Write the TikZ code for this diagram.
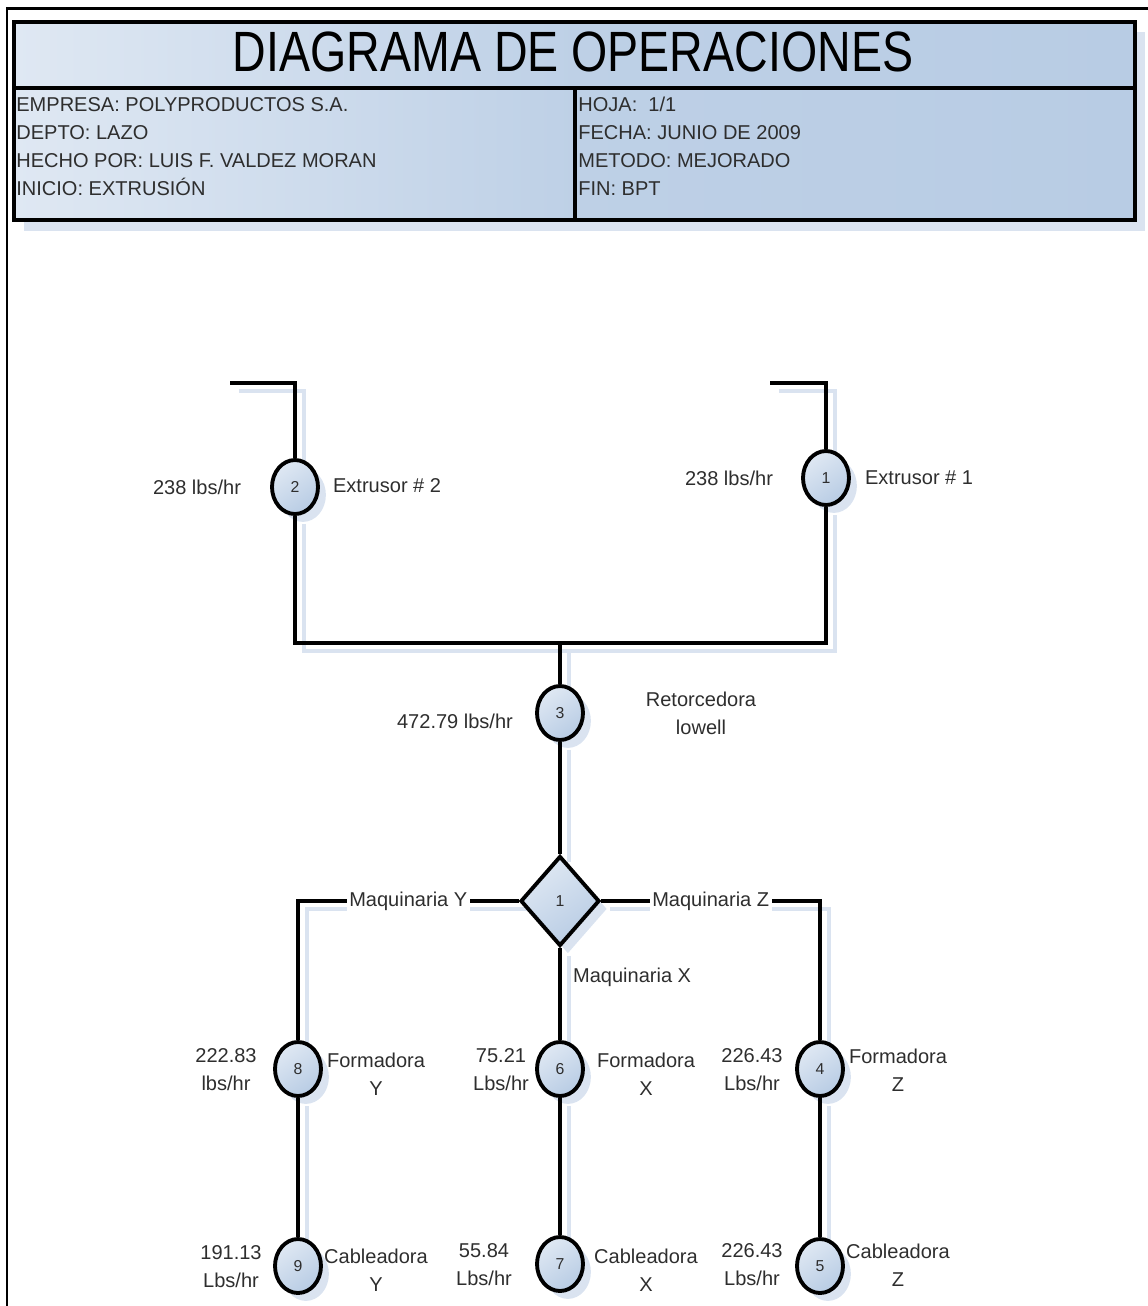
\documentclass[tikz,border=0pt]{standalone}
\usepackage{fontspec}
\setmainfont{Liberation Sans}
\usetikzlibrary{shapes.geometric, shadows, backgrounds}
\definecolor{hdrblue}{HTML}{B8CCE4}
\definecolor{hdrlite}{HTML}{DFE8F3}
\definecolor{shadeblue}{HTML}{DAE3F0}
\definecolor{txtgray}{HTML}{2E2E2E}
\tikzset{
  flow/.style={line width=2pt},
  flowshadow/.style={line width=2pt, draw=shadeblue},
  opcirc/.style={ellipse, draw, line width=2.2pt, minimum width=0.92cm, minimum height=1.08cm,
      inner sep=0pt, top color=hdrlite, bottom color=hdrblue, shading angle=35,
      font=\fontsize{9}{9}\selectfont, text=txtgray,
      drop shadow={shadow xshift=4.5pt, shadow yshift=-4.5pt, fill=shadeblue, opacity=1}},
  decision/.style={diamond, draw, line width=2.2pt, aspect=0.88, minimum width=1.58cm, minimum height=1.8cm,
      inner sep=0pt, top color=hdrlite, bottom color=hdrblue, shading angle=35,
      font=\fontsize{9}{9}\selectfont, text=txtgray,
      drop shadow={shadow xshift=4.5pt, shadow yshift=-4.5pt, fill=shadeblue, opacity=1}},
  rate/.style={font=\fontsize{11.4}{15.9}\selectfont, text=txtgray, align=center, inner sep=1pt},
  branch/.style={rate, fill=white, inner sep=1.5pt},
  hdrtext/.style={font=\fontsize{11.4}{15.9}\selectfont, text=txtgray, align=left, inner sep=0pt, anchor=north west},
}

\begin{document}
\begin{tikzpicture}[x=0.02cm, y=-0.02cm]
  \useasboundingbox (0,0) rectangle (1148,1306);
  % marco de la hoja
  \draw[line width=1.7pt] (1148,8) -- (7,8) -- (7,1306);
  % encabezado
  \fill[shadeblue] (24,32) rectangle (1145,231);
  \shade[left color=hdrlite, right color=hdrblue, middle color=hdrblue!85!hdrlite] (14,22) rectangle (1135,220);
  \draw[line width=2.2pt] (14,22) rectangle (1135,220);
  \draw[line width=2.2pt] (14,88) -- (1135,88);
  \draw[line width=2.2pt] (575,88) -- (575,220);
  \node[font=\fontsize{26.5}{26.5}\selectfont, inner sep=0pt] (title) at (573,52)
    {\scalebox{1}[1.22]{DIAGRAMA DE OPERACIONES}};
  \node[hdrtext] (infoL) at (16,97) {EMPRESA: POLYPRODUCTOS S.A.\\DEPTO: LAZO\\HECHO POR: LUIS F. VALDEZ MORAN\\INICIO: EXTRUSIÓN};
  \node[hdrtext] (infoR) at (578,97) {HOJA:\ \ 1/1\\FECHA: JUNIO DE 2009\\METODO: MEJORADO\\FIN: BPT};

  % operaciones
  \node[opcirc] (c2) at (295,487) {2};
  \node[opcirc] (c1) at (826,478) {1};
  \node[opcirc] (c3) at (560,713) {3};
  \node[decision] (d1) at (560,901) {1};
  \node[opcirc] (c8) at (298,1069) {8};
  \node[opcirc] (c6) at (560,1069) {6};
  \node[opcirc] (c4) at (820,1069) {4};
  \node[opcirc] (c9) at (298,1266) {9};
  \node[opcirc] (c7) at (560,1264) {7};
  \node[opcirc] (c5) at (820,1266) {5};

  \coordinate (s2) at (230,383);
  \coordinate (s1) at (770,383);
  \coordinate (j1) at (826,643);
  \coordinate (jm) at (560,643);
  \coordinate (bY) at (298,901);
  \coordinate (bZ) at (820,901);

  % textos
  \node[rate] (r2) at (197,487) {238 lbs/hr};
  \node[rate, anchor=west] (n2) at (331,486) {Extrusor \# 2};
  \node[rate] (r1) at (729,478) {238 lbs/hr};
  \node[rate, anchor=west] (n1) at (863,478) {Extrusor \# 1};
  \node[rate] (r3) at (455,721) {472.79 lbs/hr};
  \node[rate] (n3) at (701,713) {Retorcedora\\lowell};
  \node[rate, anchor=west] (mX) at (571,977) {Maquinaria X};
  \node[rate] (r8) at (226,1070) {222.83\\lbs/hr};
  \node[rate] (n8) at (376,1074) {Formadora\\Y};
  \node[rate] (r6) at (501,1070) {75.21\\Lbs/hr};
  \node[rate] (n6) at (646,1074) {Formadora\\X};
  \node[rate] (r4) at (752,1070) {226.43\\Lbs/hr};
  \node[rate] (n4) at (898,1070) {Formadora\\Z};
  \node[rate] (r9) at (231,1267) {191.13\\Lbs/hr};
  \node[rate] (n9) at (376,1270) {Cableadora\\Y};
  \node[rate] (r7) at (484,1265) {55.84\\Lbs/hr};
  \node[rate] (n7) at (646,1270) {Cableadora\\X};
  \node[rate] (r5) at (752,1265) {226.43\\Lbs/hr};
  \node[rate] (n5) at (898,1265) {Cableadora\\Z};

  % sombras de las lineas
  \begin{scope}[on background layer]
  \begin{scope}[transform canvas={shift={(5pt,-4.5pt)}}]
    \draw[flowshadow] (s2) -| (c2);
    \draw[flowshadow] (c2) |- (j1) -- (c1);
    \draw[flowshadow] (c1) |- (s1);
    \draw[flowshadow] (jm) -- (c3);
    \draw[flowshadow] (c3) -- (d1);
    \draw[flowshadow] (d1) -- (c6);
    \draw[flowshadow] (c6) -- (c7);
    \draw[flowshadow] (d1.west) -- (bY) -- (c8);
    \draw[flowshadow] (d1.east) -- (bZ) -- (c4);
    \draw[flowshadow] (c8) -- (c9);
    \draw[flowshadow] (c4) -- (c5);
  \end{scope}
  \end{scope}

  % lineas de flujo
  \draw[flow] (s2) -| (c2);
  \draw[flow] (c2) |- (j1) -- (c1);
  \draw[flow] (c1) |- (s1);
  \draw[flow] (jm) -- (c3);
  \draw[flow] (c3) -- (d1);
  \draw[flow] (d1) -- (c6);
  \draw[flow] (c6) -- (c7);
  \draw[flow] (d1.west) -- node[branch] (mY) {Maquinaria Y} (bY) -- (c8);
  \draw[flow] (d1.east) -- node[branch] (mZ) {Maquinaria Z} (bZ) -- (c4);
  \draw[flow] (c8) -- (c9);
  \draw[flow] (c4) -- (c5);
\end{tikzpicture}
\end{document}
